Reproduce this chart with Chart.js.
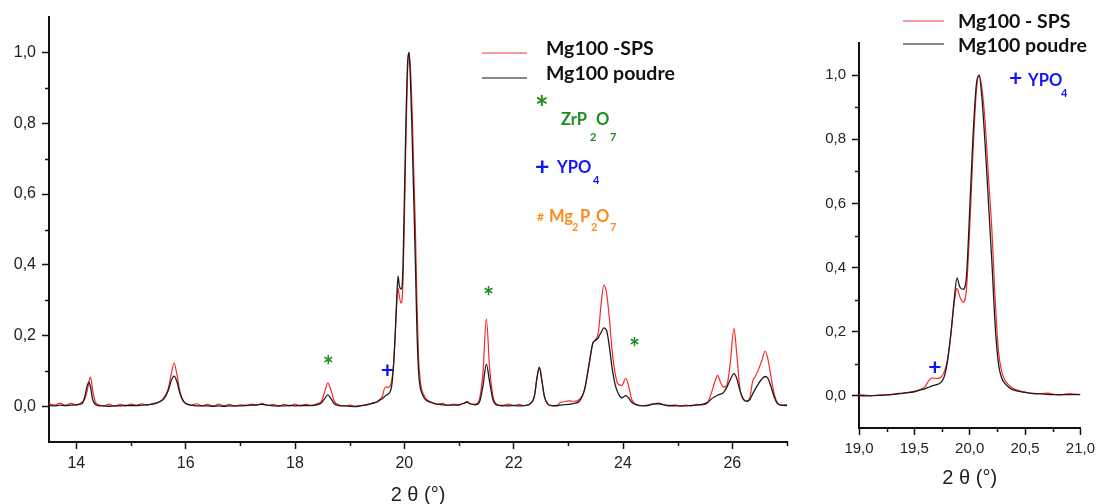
<!DOCTYPE html>
<html>
<head>
<meta charset="utf-8">
<script src="https://cdn.jsdelivr.net/npm/chart.js@4.4.0/dist/chart.umd.min.js"></script>
<style>
  html, body { margin: 0; padding: 0; background: #fff; }
  #wrap { position: relative; width: 1100px; height: 504px; overflow: hidden; font-family: Lato, 'Open Sans', sans-serif; }
  #mainBox { position: absolute; left: 0; top: 0; width: 800px; height: 504px; }
  #zoomBox { position: absolute; left: 800px; top: 0; width: 300px; height: 504px; }
  .lbl { position: absolute; font-weight: bold; white-space: nowrap; line-height: 1; }
  .key { position: absolute; height: 2px; }
  .big { font-size: 19.5px; color: #111; }
  .f { font-size: 16.5px; }
  .s { font-size: 11px; }
  .g { color: #1e8c1e; }
  .b { color: #1212ff; }
  .o { color: #ff8a1c; }
</style>
</head>
<body>
<div id="wrap">
  <div id="mainBox"><canvas id="mainChart"></canvas></div>
  <div id="zoomBox"><canvas id="zoomChart"></canvas></div>

  <!-- legend, main panel -->
  <div class="key" style="left:482px; top:52px; width:45px; background:#f39a9a;"></div>
  <div class="key" style="left:482px; top:77px; width:45px; background:#888;"></div>
  <div class="lbl big" style="left:546px; top:38px;">Mg100 -SPS</div>
  <div class="lbl big" style="left:546px; top:63px;">Mg100 poudre</div>

  <div class="lbl g" style="left:535px; top:92px; font-size:32px;">*</div>
  <div class="lbl f g" style="left:561px; top:111px;">ZrP</div>
  <div class="lbl f g" style="left:596px; top:111px;">O</div>
  <div class="lbl s g" style="left:590px; top:131px;">2</div>
  <div class="lbl s g" style="left:610px; top:131px;">7</div>

  <div class="lbl b" style="left:535px; top:153px; font-size:25px;">+</div>
  <div class="lbl f b" style="left:557px; top:159px;">YPO</div>
  <div class="lbl s b" style="left:593px; top:174px;">4</div>

  <div class="lbl o" style="left:537px; top:211px; font-size:12px;">#</div>
  <div class="lbl f o" style="left:549px; top:208px;">Mg</div>
  <div class="lbl s o" style="left:572px; top:221px;">2</div>
  <div class="lbl f o" style="left:580px; top:208px;">P</div>
  <div class="lbl s o" style="left:591px; top:221px;">2</div>
  <div class="lbl f o" style="left:596px; top:208px;">O</div>
  <div class="lbl s o" style="left:610px; top:221px;">7</div>

  <!-- legend, zoom panel -->
  <div class="key" style="left:903px; top:20px; width:41px; background:#f39a9a;"></div>
  <div class="key" style="left:903px; top:43px; width:41px; background:#888;"></div>
  <div class="lbl big" style="left:958px; top:11px;">Mg100 - SPS</div>
  <div class="lbl big" style="left:958px; top:35px;">Mg100 poudre</div>
  <div class="lbl b" style="left:1009px; top:66px; font-size:23px;">+</div>
  <div class="lbl f b" style="left:1028px; top:72px;">YPO</div>
  <div class="lbl s b" style="left:1061px; top:87px;">4</div>
</div>

<script>
// 2 theta positions (deg)
const twoTheta = [
  13.5, 13.6, 13.7, 13.8, 13.9, 14.0, 14.1, 14.15, 14.2, 14.23, 14.26, 14.3, 14.35, 14.4,
  14.5, 14.6, 14.7, 14.8, 14.9, 15.0, 15.1, 15.2, 15.3, 15.4,
  15.5, 15.6, 15.68, 15.74, 15.79, 15.84, 15.9, 15.96, 16.05,
  16.1, 16.2, 16.3, 16.4, 16.5, 16.6, 16.7, 16.8, 16.9, 17.0,
  17.1, 17.2, 17.3, 17.4, 17.5, 17.6, 17.7, 17.8, 17.9, 18.0,
  18.1, 18.2, 18.3, 18.4, 18.48, 18.54, 18.6, 18.66, 18.72, 18.8, 18.9,
  19.0, 19.1, 19.2, 19.3, 19.4, 19.5, 19.55, 19.6, 19.63, 19.66, 19.7, 19.74, 19.77,
  19.8, 19.83, 19.86, 19.885, 19.91, 19.94, 19.97, 20.0, 20.03, 20.06, 20.085,
  20.11, 20.14, 20.17, 20.2, 20.23, 20.26, 20.29, 20.32, 20.36, 20.4,
  20.5, 20.6, 20.7, 20.8, 20.9, 21.0, 21.1, 21.15, 21.2, 21.3,
  21.38, 21.44, 21.5, 21.56, 21.62, 21.7, 21.8, 21.9, 22.0, 22.1, 22.2, 22.3,
  22.38, 22.43, 22.47, 22.51, 22.56, 22.62, 22.7, 22.8, 22.85, 22.9, 23.0, 23.1, 23.2,
  23.3, 23.38, 23.45, 23.5, 23.55, 23.6, 23.65, 23.7, 23.75, 23.8, 23.86, 23.92, 23.98,
  24.05, 24.1, 24.16, 24.25, 24.35, 24.45, 24.55, 24.65, 24.75, 24.85, 24.95,
  25.05, 25.15, 25.25, 25.35, 25.45, 25.55, 25.62, 25.68, 25.73, 25.78, 25.84, 25.9, 25.96,
  26.03, 26.08, 26.14, 26.2, 26.26, 26.32, 26.37, 26.42, 26.48, 26.54, 26.6, 26.65, 26.7, 26.76, 26.82, 26.9, 27.0
];

// normalised intensity, Mg100 -SPS (red)
const spsValues = [
  0.008, 0.004, 0.010, 0.003, 0.009, 0.005, 0.012, 0.020, 0.045, 0.070, 0.083, 0.045, 0.012, 0.006,
  0.002, 0.007, 0.001, 0.006, 0.002, 0.007, 0.003, 0.008, 0.004, 0.009,
  0.012, 0.025, 0.050, 0.095, 0.123, 0.090, 0.040, 0.015, 0.005,
  0.003, 0.008, 0.002, 0.006, 0.001, 0.007, 0.002, 0.006, 0.001, 0.005,
  0.003, 0.007, 0.004, 0.009, 0.003, 0.006, 0.001, 0.006, 0.002, 0.007,
  0.002, 0.006, 0.003, 0.008, 0.015, 0.040, 0.067, 0.045, 0.015, 0.005, 0.002,
  0.004, 0.001, 0.003, 0.004, 0.008, 0.014, 0.020, 0.030, 0.048, 0.056, 0.054, 0.058, 0.075,
  0.115, 0.190, 0.290, 0.335, 0.310, 0.292, 0.330, 0.520, 0.760, 0.950, 1.000,
  0.960, 0.850, 0.680, 0.520, 0.300, 0.140, 0.075, 0.048, 0.032, 0.022,
  0.012, 0.006, 0.009, 0.003, 0.007, 0.004, 0.010, 0.014, 0.008, 0.007,
  0.025, 0.100, 0.248, 0.110, 0.030, 0.006, 0.002, 0.007, 0.003, 0.006, 0.003, 0.007,
  0.030, 0.085, 0.111, 0.080, 0.030, 0.008, 0.003, 0.002, 0.012, 0.013, 0.016, 0.015, 0.020,
  0.050, 0.120, 0.180, 0.190, 0.210, 0.290, 0.343, 0.320, 0.250, 0.160, 0.090, 0.062, 0.060,
  0.080, 0.060, 0.020, 0.006, 0.003, 0.004, 0.008, 0.010, 0.005, 0.002, 0.005,
  0.001, 0.004, 0.002, 0.006, 0.005, 0.012, 0.040, 0.070, 0.088, 0.070, 0.055, 0.060, 0.120,
  0.220, 0.150, 0.050, 0.020, 0.015, 0.025, 0.070, 0.085, 0.105, 0.130, 0.157, 0.135, 0.090, 0.040, 0.012, 0.004, 0.005
];

// normalised intensity, Mg100 poudre (black)
const poudreValues = [
  0.003, 0.002, 0.004, 0.003, 0.004, 0.005, 0.008, 0.025, 0.060, 0.069, 0.055, 0.020, 0.006, 0.003,
  0.002, 0.001, 0.002, 0.002, 0.003, 0.003, 0.003, 0.004, 0.005, 0.007,
  0.012, 0.022, 0.045, 0.075, 0.086, 0.070, 0.035, 0.015, 0.006,
  0.004, 0.002, 0.002, 0.002, 0.001, 0.002, 0.001, 0.002, 0.002, 0.002,
  0.003, 0.004, 0.005, 0.006, 0.004, 0.002, 0.002, 0.002, 0.003, 0.002,
  0.003, 0.003, 0.003, 0.005, 0.010, 0.022, 0.033, 0.022, 0.008, 0.003, 0.002,
  0.001, 0.000, 0.002, 0.005, 0.009, 0.013, 0.018, 0.023, 0.027, 0.031, 0.035, 0.042, 0.060,
  0.110, 0.195, 0.300, 0.368, 0.340, 0.332, 0.370, 0.580, 0.810, 0.970, 1.000,
  0.930, 0.780, 0.600, 0.420, 0.220, 0.100, 0.055, 0.038, 0.025, 0.018,
  0.011, 0.007, 0.005, 0.004, 0.004, 0.005, 0.010, 0.013, 0.008, 0.005,
  0.015, 0.060, 0.120, 0.070, 0.020, 0.004, 0.003, 0.002, 0.003, 0.002, 0.003, 0.008,
  0.030, 0.085, 0.111, 0.080, 0.030, 0.008, 0.002, 0.003, 0.004, 0.005, 0.006, 0.009, 0.015,
  0.050, 0.120, 0.180, 0.187, 0.195, 0.210, 0.222, 0.215, 0.170, 0.110, 0.060, 0.035, 0.025,
  0.031, 0.025, 0.012, 0.005, 0.002, 0.003, 0.007, 0.008, 0.005, 0.003, 0.002,
  0.002, 0.002, 0.003, 0.004, 0.006, 0.012, 0.022, 0.028, 0.032, 0.035, 0.040, 0.055, 0.075,
  0.093, 0.080, 0.045, 0.022, 0.015, 0.020, 0.035, 0.050, 0.065, 0.078, 0.085, 0.080, 0.060, 0.030, 0.010, 0.004, 0.003
];

// phase markers placed at (2theta, intensity)
const zrMarks = [[18.61, 0.13], [21.54, 0.326], [24.21, 0.181]];
const ypoMarks = [[19.69, 0.102]];
const ypoMarksZoom = [[19.685, 0.087]];

// tick labels
const mainXTicks = [14, 16, 18, 20, 22, 24, 26];
const zoomXTicks = [19.0, 19.5, 20.0, 20.5, 21.0];
const yTicks = [0, 0.2, 0.4, 0.6, 0.8, 1.0];

const comma = v => v.toFixed(1).replace('.', ',');

const extras = {
  id: 'extras',
  afterDraw(chart, args, opts) {
    const { ctx } = chart;
    const x = chart.scales.x, y = chart.scales.y;
    ctx.save();
    ctx.strokeStyle = '#111';
    ctx.lineWidth = 1.5;
    ctx.beginPath();
    opts.minorX.forEach(v => {
      const px = Math.round(x.getPixelForValue(v)) + 0.5;
      ctx.moveTo(px, x.top); ctx.lineTo(px, x.top + 4);
    });
    opts.minorY.forEach(v => {
      const py = Math.round(y.getPixelForValue(v)) + 0.5;
      ctx.moveTo(y.right, py); ctx.lineTo(y.right - 4, py);
    });
    ctx.stroke();
    ctx.textAlign = 'center';
    ctx.textBaseline = 'middle';
    opts.marks.forEach(m => {
      ctx.fillStyle = m.color;
      ctx.font = m.font;
      ctx.fillText(m.text, x.getPixelForValue(m.x), y.getPixelForValue(m.y) + m.dy);
    });
    ctx.restore();
  }
};

function makeChart(id, cfg) {
  const points = vals => twoTheta.map((t, i) => ({ x: t, y: vals[i] }));
  return new Chart(document.getElementById(id), {
    type: 'line',
    data: {
      datasets: [
        { label: 'Mg100 -SPS', data: points(spsValues), borderColor: '#f52a2a', borderWidth: 1.2, order: 2 },
        { label: 'Mg100 poudre', data: points(poudreValues), borderColor: '#1c1c1c', borderWidth: 1.3, order: 1 }
      ]
    },
    options: {
      responsive: true,
      maintainAspectRatio: false,
      animation: false,
      elements: { point: { radius: 0 }, line: { cubicInterpolationMode: 'monotone' } },
      layout: { padding: cfg.padding },
      plugins: {
        legend: { display: false },
        tooltip: { enabled: false },
        extras: { minorX: cfg.minorX, minorY: cfg.minorY, marks: cfg.marks }
      },
      scales: {
        x: {
          type: 'linear',
          min: cfg.xMin, max: cfg.xMax,
          afterBuildTicks: s => { s.ticks = cfg.xTicks.map(v => ({ value: v })); },
          afterFit: s => { s.height = cfg.xHeight; },
          border: { color: '#111', width: 2 },
          grid: { drawOnChartArea: false, tickLength: 7, tickColor: '#111', tickWidth: 1.5 },
          ticks: { color: '#222', padding: cfg.xPad, maxRotation: 0, autoSkip: false,
                   font: { family: 'Liberation Sans', size: cfg.tickSize }, callback: cfg.xFmt },
          title: { display: true, text: '2 θ (°)', color: '#222',
                   font: { family: 'Liberation Sans', size: 20 }, padding: { top: 0, bottom: cfg.titlePad } }
        },
        y: {
          min: -0.1, max: 1.1,
          afterBuildTicks: s => { s.ticks = yTicks.map(v => ({ value: v })); },
          afterFit: s => { s.width = cfg.yWidth; },
          border: { color: '#111', width: 2 },
          grid: { drawOnChartArea: false, tickLength: 7, tickColor: '#111', tickWidth: 1.5 },
          ticks: { color: '#222', padding: 6, autoSkip: false,
                   font: { family: 'Liberation Sans', size: cfg.tickSize }, callback: v => comma(v) }
        }
      }
    },
    plugins: [extras]
  });
}

const star = (p) => ({ x: p[0], y: p[1], text: '*', color: '#1e8c1e', font: 'bold 26px Lato', dy: 6 });
const plus = (p) => ({ x: p[0], y: p[1], text: '+', color: '#1212ff', font: 'bold 23px Lato', dy: 0 });

makeChart('mainChart', {
  padding: { top: 17, right: 13, left: 0, bottom: 0 },
  xMin: 13.5, xMax: 27, xTicks: mainXTicks, xFmt: v => String(v),
  xHeight: 62, xPad: 5, titlePad: -3, yWidth: 49, tickSize: 16,
  minorX: [15, 17, 19, 21, 23, 25, 27],
  minorY: [0.1, 0.3, 0.5, 0.7, 0.9],
  marks: zrMarks.map(star).concat(ypoMarks.map(plus))
});

makeChart('zoomChart', {
  padding: { top: 43, right: 18, left: 0, bottom: 0 },
  xMin: 19, xMax: 21, xTicks: zoomXTicks, xFmt: v => comma(v),
  xHeight: 76, xPad: 5, titlePad: 14, yWidth: 59, tickSize: 15,
  minorX: [19.25, 19.75, 20.25, 20.75],
  minorY: [0.1, 0.3, 0.5, 0.7, 0.9],
  marks: ypoMarksZoom.map(plus)
});
</script>
</body>
</html>
